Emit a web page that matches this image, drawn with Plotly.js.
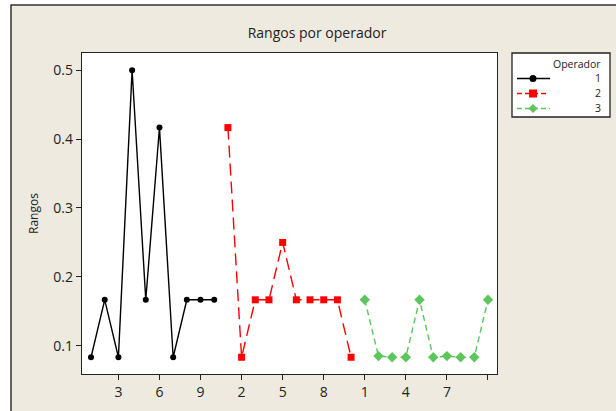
<!DOCTYPE html>
<html>
<head>
<meta charset="utf-8">
<script src="https://cdn.plot.ly/plotly-3.0.1.min.js"></script>
<style>html,body{margin:0;padding:0;background:#fff;}#chart{width:616px;height:411px;}</style>
</head>
<body>
<div id="chart"></div>
<script>
// Data
var legendTitle = "Operador";
var operators = ["1", "2", "3"];
var rangosOp1 = [0.0833, 0.1667, 0.0833, 0.5000, 0.1667, 0.4167, 0.0833, 0.1667, 0.1667, 0.1667];
var rangosOp2 = [0.4167, 0.0833, 0.1667, 0.1667, 0.2500, 0.1667, 0.1667, 0.1667, 0.1667, 0.0833];
var rangosOp3 = [0.1667, 0.0850, 0.0833, 0.0833, 0.1667, 0.0833, 0.0850, 0.0833, 0.0833, 0.1667];
var tickPositions = [3, 6, 9, 12, 15, 18, 21, 24, 27, 30];
var tickLabels = ["3", "6", "9", "2", "5", "8", "1", "4", "7", ""];

function idx(arr, offset) { return arr.map(function (_, i) { return offset + i + 1; }); }

var W = 616, H = 411;
var L = 82, R = 497, T = 53, B = 374;
var pw = R - L, ph = B - T;
function px(x) { return (x - L) / pw; }
function py(y) { return (B - y) / ph; }

var colors = ["#000000", "#FF0000", "#5CC65C"];
var dashes = ["solid", "12px,6px", "6px,4px"];
var symbols = ["circle", "square", "diamond"];

var traces = [
  { x: idx(rangosOp1, 0), y: rangosOp1, name: operators[0], mode: "lines+markers",
    line: { color: colors[0], width: 1.4, dash: dashes[0] }, marker: { symbol: symbols[0], size: 6, color: colors[0] } },
  { x: idx(rangosOp2, rangosOp1.length), y: rangosOp2, name: operators[1], mode: "lines+markers",
    line: { color: colors[1], width: 1.4, dash: dashes[1] }, marker: { symbol: symbols[1], size: 7, color: colors[1] } },
  { x: idx(rangosOp3, rangosOp1.length + rangosOp2.length), y: rangosOp3, name: operators[2], mode: "lines+markers",
    line: { color: colors[2], width: 1.4, dash: dashes[2] }, marker: { symbol: symbols[2], size: 8, color: colors[2] } }
];

// Frame of the figure (white strip left/top, dark border line)
var shapes = [
  { type: "rect", xref: "paper", yref: "paper", x0: px(-5), x1: px(10.5), y0: py(420), y1: py(-5), fillcolor: "#FFFFFF", line: { width: 0 }, layer: "below" },
  { type: "rect", xref: "paper", yref: "paper", x0: px(-5), x1: px(625), y0: py(4.5), y1: py(-5), fillcolor: "#FFFFFF", line: { width: 0 }, layer: "below" },
  { type: "line", xref: "paper", yref: "paper", x0: px(11), x1: px(11), y0: py(420), y1: py(4.5), line: { color: "#333333", width: 1.5 } },
  { type: "line", xref: "paper", yref: "paper", x0: px(11), x1: px(625), y0: py(5), y1: py(5), line: { color: "#333333", width: 1.5 } },
  // legend box
  { type: "rect", xref: "paper", yref: "paper", x0: px(512), x1: px(610), y0: py(117), y1: py(53), fillcolor: "#FFFFFF", line: { color: "#222222", width: 1.3 } }
];
var annotations = [
  { xref: "paper", yref: "paper", x: px(603), y: py(64), xanchor: "right", yanchor: "middle", showarrow: false,
    text: legendTitle, font: { size: 10.5, color: "#222222" } }
];
var rowY = [78.5, 93.5, 108.5];
var lineEnd = [550, 546, 550];
operators.forEach(function (op, i) {
  var yy = py(rowY[i]);
  shapes.push({ type: "line", xref: "paper", yref: "paper", x0: px(517), x1: px(lineEnd[i]), y0: yy, y1: yy,
    line: { color: colors[i], width: 1.4, dash: i === 0 ? "solid" : "5px,3px" } });
  var cx = 533, cy = rowY[i];
  if (symbols[i] === "circle") {
    shapes.push({ type: "circle", xref: "paper", yref: "paper", x0: px(cx - 3.5), x1: px(cx + 3.5), y0: py(cy + 3.5), y1: py(cy - 3.5),
      fillcolor: colors[i], line: { width: 0 } });
  } else if (symbols[i] === "square") {
    shapes.push({ type: "rect", xref: "paper", yref: "paper", x0: px(cx - 4), x1: px(cx + 4), y0: py(cy + 4), y1: py(cy - 4),
      fillcolor: colors[i], line: { width: 0 } });
  } else {
    var d = 4.5;
    shapes.push({ type: "path", xref: "paper", yref: "paper",
      path: "M" + px(cx) + "," + py(cy - d) + " L" + px(cx + d) + "," + py(cy) + " L" + px(cx) + "," + py(cy + d) + " L" + px(cx - d) + "," + py(cy) + " Z",
      fillcolor: colors[i], line: { width: 0 } });
  }
  annotations.push({ xref: "paper", yref: "paper", x: px(603), y: py(rowY[i]), xanchor: "right", yanchor: "middle", showarrow: false,
    text: op, font: { size: 10.5, color: "#222222" } });
});

var layout = {
  width: W, height: H,
  margin: { l: L, r: W - R, t: T, b: H - B, pad: 0 },
  paper_bgcolor: "#EEEAE0",
  plot_bgcolor: "#FFFFFF",
  font: { family: "Open Sans, Noto Sans, sans-serif", color: "#222222", size: 12 },
  showlegend: false,
  title: { text: "Rangos por operador", font: { size: 14, color: "#222222" },
           x: 317 / W, xanchor: "center", y: 1 - 33 / H, yanchor: "middle" },
  xaxis: {
    range: [0.34, 30.66], tickmode: "array", tickvals: tickPositions, ticktext: tickLabels,
    showgrid: false, zeroline: false, showline: true, mirror: true, linecolor: "#222222", linewidth: 1.3,
    ticks: "outside", ticklen: 5, tickcolor: "#222222", tickfont: { size: 14 }
  },
  yaxis: {
    range: [0.059, 0.525], tickvals: [0.1, 0.2, 0.3, 0.4, 0.5], tickformat: ".1f",
    showgrid: false, zeroline: false, showline: true, mirror: true, linecolor: "#222222", linewidth: 1.3,
    ticks: "outside", ticklen: 5, tickcolor: "#222222", tickfont: { size: 14 },
    title: { text: "Rangos", font: { size: 12 }, standoff: 12 }
  },
  shapes: shapes,
  annotations: annotations
};

Plotly.newPlot("chart", traces, layout, { displayModeBar: false, staticPlot: true });
</script>
</body>
</html>
